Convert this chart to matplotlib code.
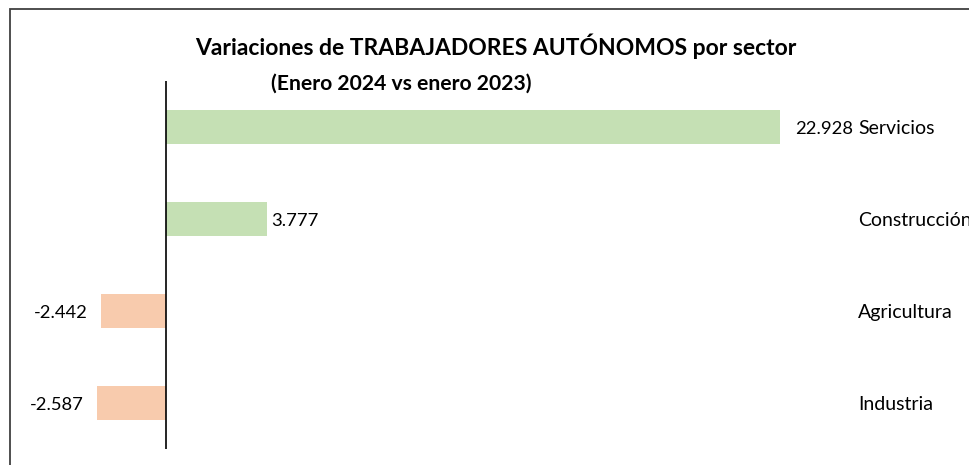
import matplotlib.pyplot as plt
from matplotlib.patches import Rectangle

sectores = ['Servicios', 'Construcción', 'Agricultura', 'Industria']
variacion = [22928, 3777, -2442, -2587]
etiquetas = ['22.928', '3.777', '-2.442', '-2.587']
separacion = [15, 4, 13, 13]   # px entre barra y etiqueta

verde = '#C5E0B4'
naranja = '#F8CBAD'
colores = [verde if v > 0 else naranja for v in variacion]

plt.rcParams['font.family'] = ['Lato', 'DejaVu Sans']

W, H = 970, 465
fig = plt.figure(figsize=(W / 100, H / 100), dpi=100)

# marco exterior (cortado a la derecha y abajo)
fig.patches.append(Rectangle((10 / W, -0.05), 1.1, 1 - 9 / H + 0.05,
                             transform=fig.transFigure, fill=False,
                             edgecolor='#404040', linewidth=1.3))

# eje: x=0 en px 166, 22928 en px 780
px_por_unidad = (780 - 166) / 22928
left_px, right_px = 20, 960
ax = fig.add_axes([left_px / W, (H - 449) / H, (right_px - left_px) / W, 368 / H])
ax.set_xlim((left_px - 166) / px_por_unidad, (right_px - 166) / px_por_unidad)
ax.set_ylim(len(sectores) - 0.5, -0.5)

pos = range(len(sectores))
ax.barh(pos, variacion, height=0.37, color=colores)
ax.axvline(0, color='black', linewidth=1.2)

x_cat = 858 / W
for i, (v, t, s, g) in enumerate(zip(variacion, etiquetas, sectores, separacion)):
    if v > 0:
        ax.annotate(t, (v, i), xytext=(g, -7), textcoords='offset pixels',
                    ha='left', va='baseline', fontsize=13.2)
    else:
        ax.annotate(t, (v, i), xytext=(-g, -7), textcoords='offset pixels',
                    ha='right', va='baseline', fontsize=13.2)
    ax.annotate(s, (x_cat, i), xycoords=('figure fraction', 'data'),
                xytext=(0, -7), textcoords='offset pixels',
                ha='left', va='baseline', fontsize=14)

ax.axis('off')

fig.text(496 / W, 1 - 55 / H, 'Variaciones de TRABAJADORES AUTÓNOMOS por sector',
         ha='center', va='baseline', fontsize=16.5, fontweight='bold')
fig.text(401 / W, 1 - 90 / H, '(Enero 2024 vs enero 2023)',
         ha='center', va='baseline', fontsize=15.2, fontweight='bold')

fig.savefig('out.png', dpi=100)
